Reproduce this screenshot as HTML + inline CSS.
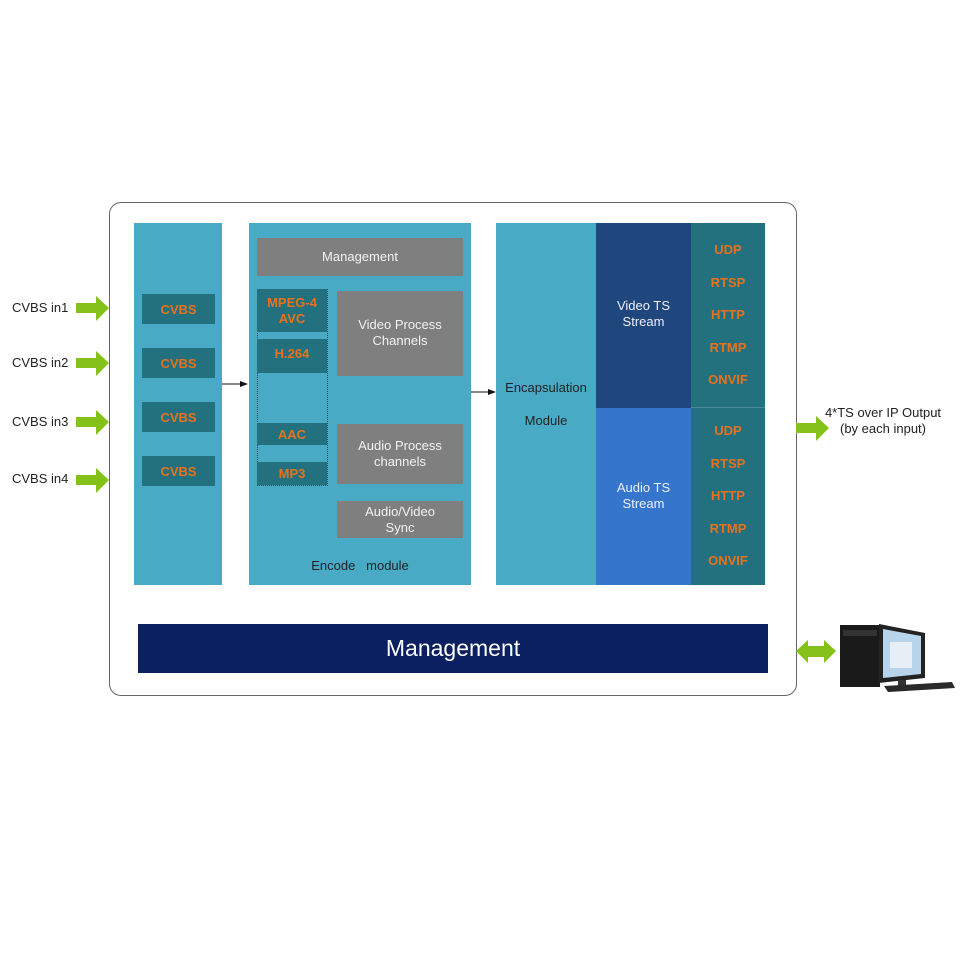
<!DOCTYPE html>
<html><head><style>
body{margin:0;width:960px;height:960px;background:#fff;position:relative;font-family:"Liberation Sans",sans-serif;overflow:hidden}
.a{position:absolute;box-sizing:border-box}
.c{display:flex;align-items:center;justify-content:center;text-align:center}
.or{color:#e8721c;font-weight:bold;font-size:13px}
.g{background:#7f7f7f;color:#f2f2f2;font-size:13px;line-height:16px}
.d{background:#23707f}
.t{font-size:13px;color:#222}
</style></head><body>
<div class="a" style="left:109px;top:202px;width:688px;height:494px;border:1.5px solid #666;border-radius:12px"></div>
<div class="a" style="left:134px;top:223px;width:88px;height:362px;background:#49aac5"></div>
<div class="a d c or" style="left:142px;top:294px;width:73px;height:30px">CVBS</div>
<div class="a d c or" style="left:142px;top:348px;width:73px;height:30px">CVBS</div>
<div class="a d c or" style="left:142px;top:402px;width:73px;height:30px">CVBS</div>
<div class="a d c or" style="left:142px;top:456px;width:73px;height:30px">CVBS</div>
<div class="a" style="left:249px;top:223px;width:222px;height:362px;background:#49aac5"></div>
<div class="a g c" style="left:257px;top:238px;width:206px;height:38px">Management</div>
<div class="a" style="left:257px;top:289px;width:71px;height:197px;border:1px dotted #1a4a5a"></div>
<div class="a d c or" style="left:257px;top:289px;width:70px;height:43px;line-height:16px">MPEG-4<br>AVC</div>
<div class="a d c or" style="left:257px;top:339px;width:70px;height:34px;padding-bottom:6px">H.264</div>
<div class="a d c or" style="left:257px;top:423px;width:70px;height:22px">AAC</div>
<div class="a d c or" style="left:257px;top:462px;width:70px;height:23px">MP3</div>
<div class="a g c" style="left:337px;top:291px;width:126px;height:85px;padding-bottom:2px">Video Process<br>Channels</div>
<div class="a g c" style="left:337px;top:424px;width:126px;height:60px">Audio Process<br>channels</div>
<div class="a g c" style="left:337px;top:501px;width:126px;height:37px">Audio/Video<br>Sync</div>
<div class="a t" style="left:249px;top:558px;width:222px;text-align:center">Encode&nbsp;&nbsp; module</div>
<div class="a" style="left:496px;top:223px;width:100px;height:362px;background:#49aac5"></div>
<div class="a t" style="left:496px;top:371px;width:100px;text-align:center;line-height:33px">Encapsulation<br>Module</div>
<div class="a c" style="left:596px;top:223px;width:95px;height:185px;background:#1f477d;color:#eef;font-size:13px;line-height:16px;padding-bottom:4px">Video TS<br>Stream</div>
<div class="a c" style="left:596px;top:408px;width:95px;height:177px;background:#3576cc;color:#eef;font-size:13px;line-height:16px;padding-bottom:2px">Audio TS<br>Stream</div>
<div class="a d" style="left:691px;top:223px;width:74px;height:362px;border-top:0"></div>
<div class="a" style="left:691px;top:407px;width:74px;height:1px;background:#4a8a9a"></div>
<div class="a or" style="left:691px;top:234px;width:74px;text-align:center;line-height:32.6px">UDP<br>RTSP<br>HTTP<br>RTMP<br>ONVIF</div>
<div class="a or" style="left:691px;top:415px;width:74px;text-align:center;line-height:32.6px">UDP<br>RTSP<br>HTTP<br>RTMP<br>ONVIF</div>
<div class="a c" style="left:138px;top:624px;width:630px;height:49px;background:#0a2060;color:#fff;font-size:23px">Management</div>
<svg class="a" style="left:0;top:0" width="960" height="960">
<g fill="#84c21a">
<polygon points="76,303 96,303 96,296 109,308 96,321 96,313 76,313"/>
<polygon points="76,358 96,358 96,351 109,363 96,376 96,368 76,368"/>
<polygon points="76,417 96,417 96,410 109,422 96,435 96,427 76,427"/>
<polygon points="76,475 96,475 96,468 109,480 96,493 96,485 76,485"/>
<polygon points="796,423 816,423 816,416 829,428 816,441 816,433 796,433"/>
<polygon points="796,651 808,640 808,646 824,646 824,640 836,651 824,663 824,657 808,657 808,663"/>
</g>
<line x1="222" y1="384" x2="242" y2="384" stroke="#111" stroke-width="1"/>
<polygon points="248,384 240,381 240,387" fill="#111"/>
<line x1="471" y1="392" x2="490" y2="392" stroke="#111" stroke-width="1"/>
<polygon points="496,392 488,389 488,395" fill="#111"/>
<rect x="840" y="625" width="40" height="62" fill="#1a1a1a"/>
<rect x="843" y="630" width="34" height="6" fill="#333"/>
<polygon points="879,624 925,633 925,678 879,683" fill="#222"/>
<polygon points="883,629 921,636 921,674 883,678" fill="#b8d4ea"/>
<rect x="890" y="642" width="22" height="26" fill="#e8eef5"/>
<rect x="898" y="680" width="8" height="8" fill="#333"/>
<polygon points="884,686 952,682 955,688 888,692" fill="#2a2a2a"/>
</svg>
<div class="a t" style="left:12px;top:300px;line-height:16px">CVBS in1</div>
<div class="a t" style="left:12px;top:355px">CVBS in2</div>
<div class="a t" style="left:12px;top:414px">CVBS in3</div>
<div class="a t" style="left:12px;top:471px">CVBS in4</div>
<div class="a t" style="left:818px;top:405px;width:130px;text-align:center;line-height:16px">4*TS over IP Output<br>(by each input)</div>
</body></html>
